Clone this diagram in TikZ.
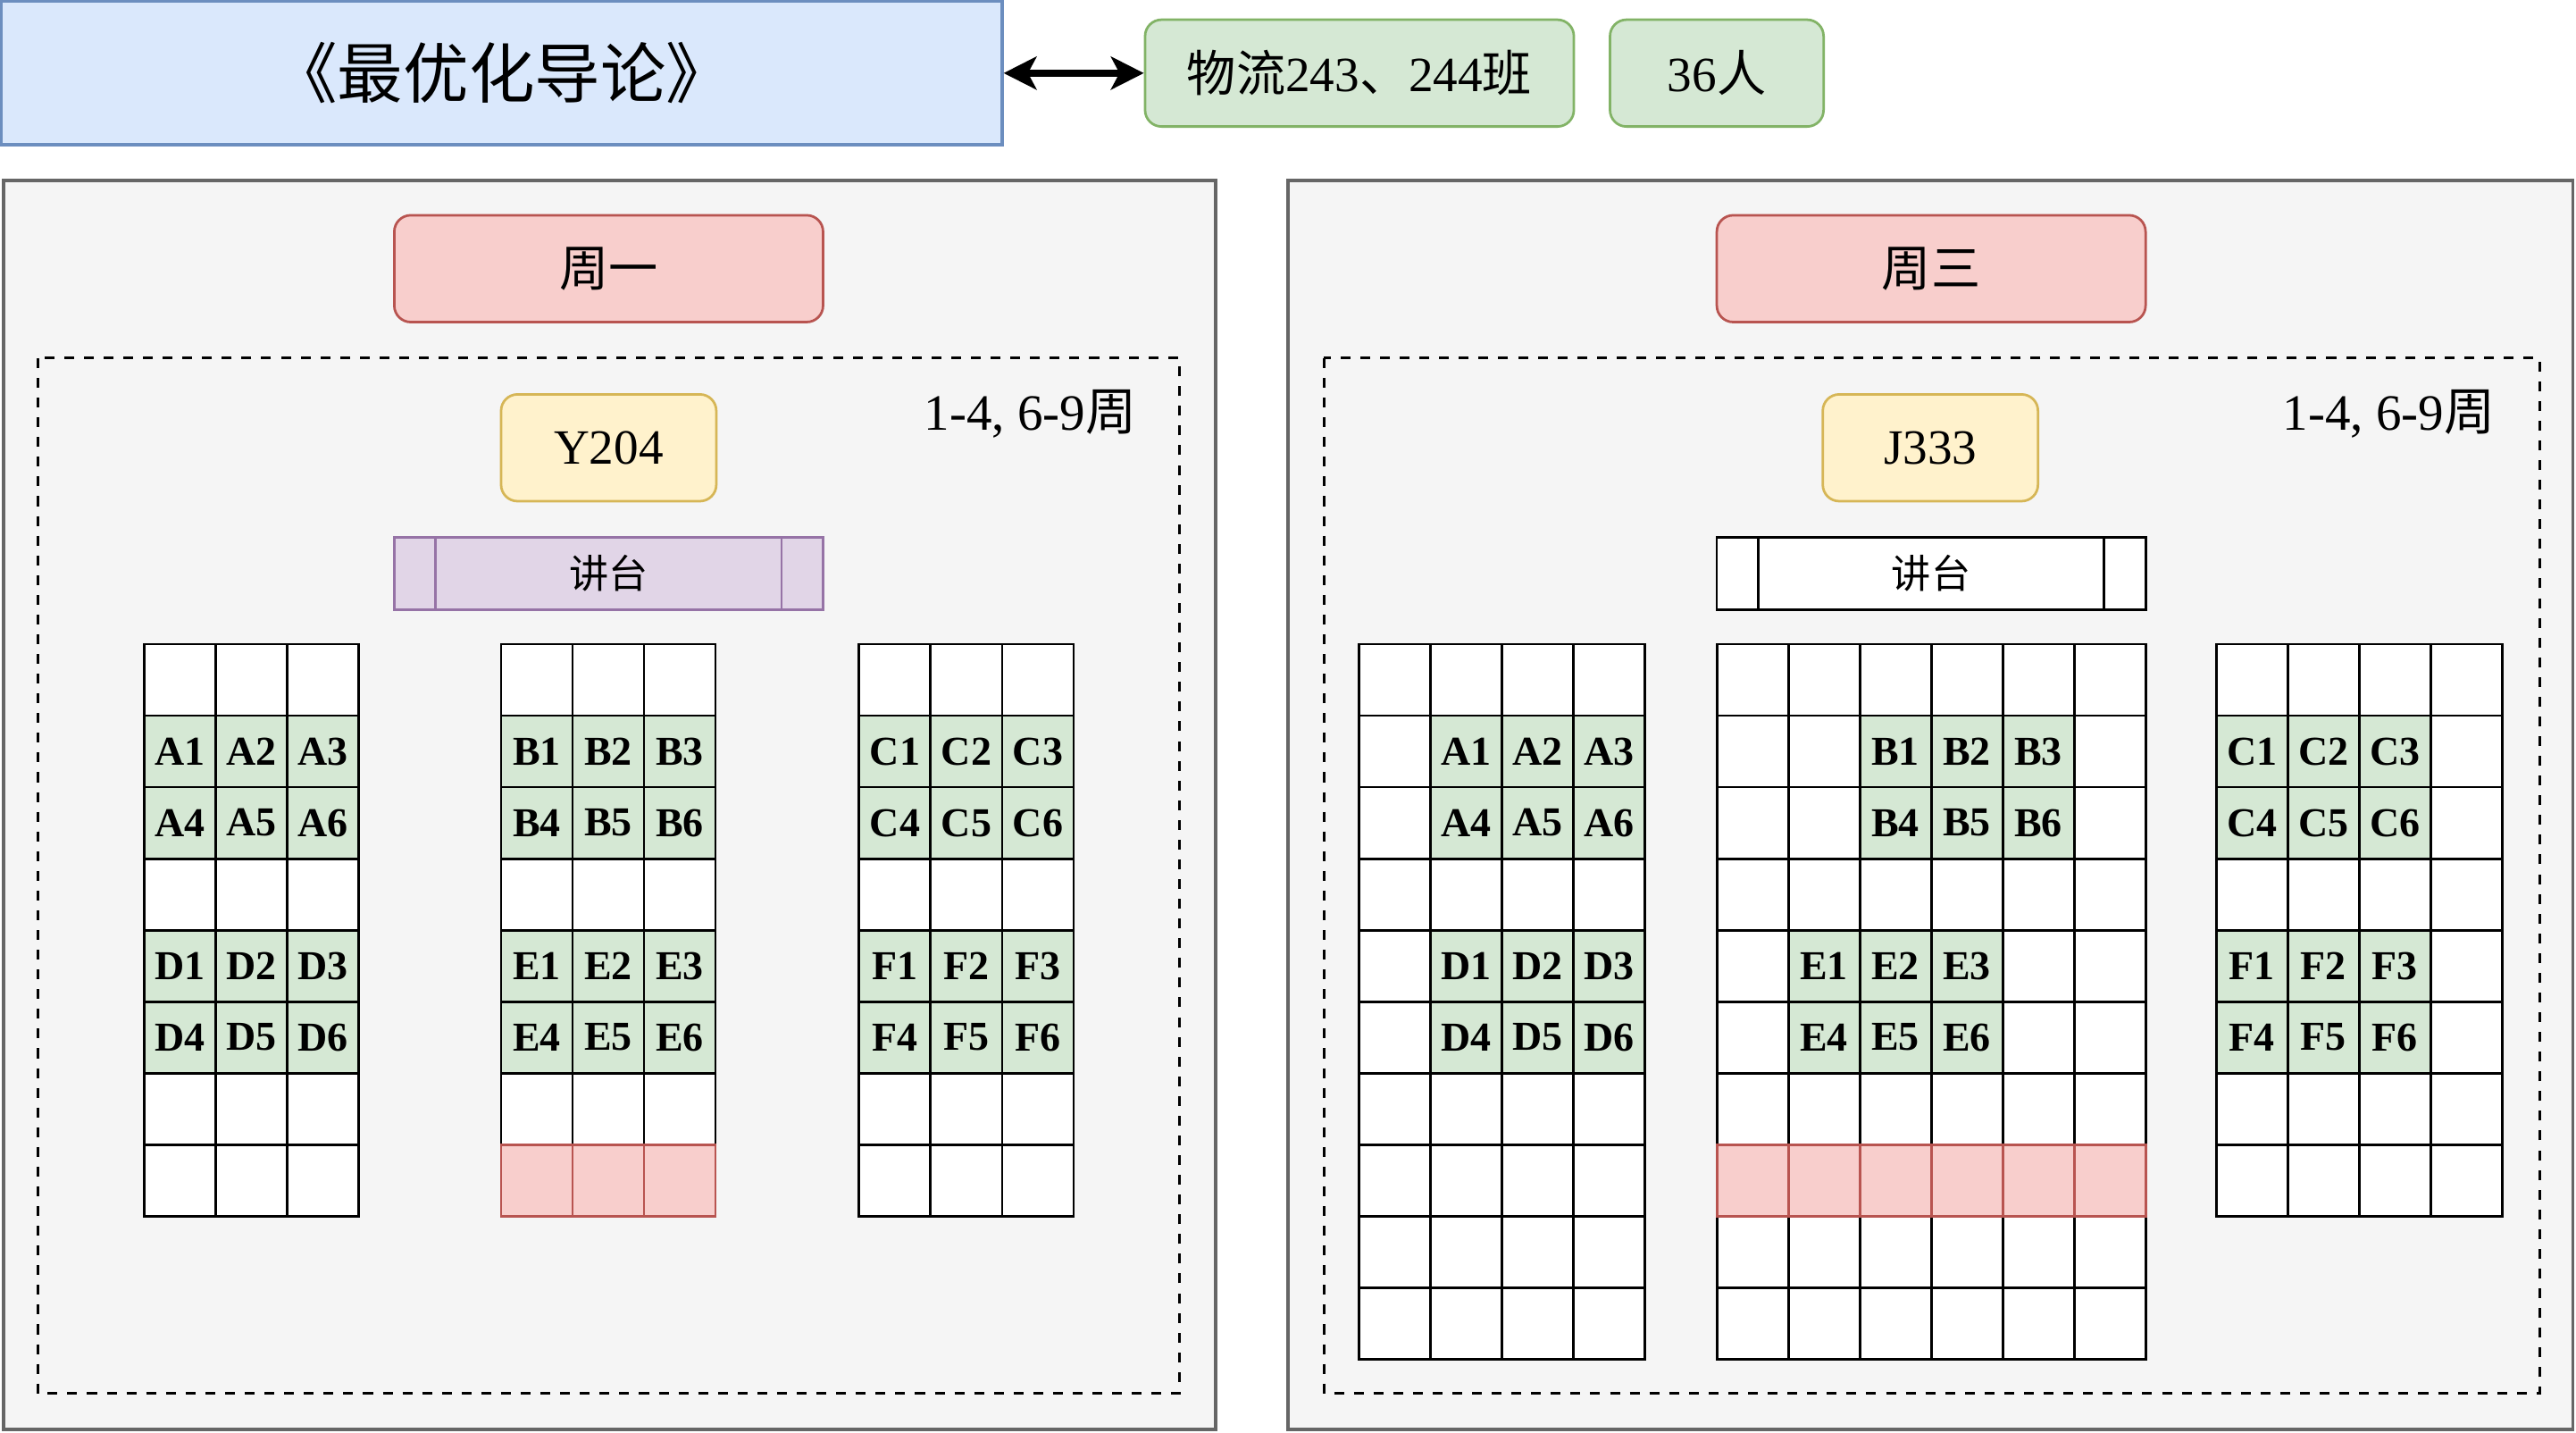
\documentclass[tikz,border=0pt]{standalone}
\usepackage{fontspec}
\setmainfont{Liberation Serif}
\newfontfamily\cjk{Noto Sans CJK SC}
\usetikzlibrary{positioning,arrows.meta}

\definecolor{blueFill}{HTML}{DAE8FC}
\definecolor{blueLine}{HTML}{6C8EBF}
\definecolor{greenFill}{HTML}{D5E8D4}
\definecolor{greenLine}{HTML}{82B366}
\definecolor{redFill}{HTML}{F8CECC}
\definecolor{redLine}{HTML}{B85450}
\definecolor{yellowFill}{HTML}{FFF2CC}
\definecolor{yellowLine}{HTML}{D6B656}
\definecolor{purpleFill}{HTML}{E1D5E7}
\definecolor{purpleLine}{HTML}{9673A6}
\definecolor{panelFill}{HTML}{F5F5F5}
\definecolor{panelLine}{HTML}{666666}

% one block of seats: name, left, top, last column, last row
\newcommand{\seatgrid}[5]{%
  \foreach \r in {0,...,#5}
    \foreach \c in {0,...,#4}
      \node[seat] (#1-\r-\c) at ({#2+43.5*\c},{#3+43.5*\r}) {};
}
% six taken seats: block, letter, first row, first column
\newcommand{\seatgroup}[4]{%
  \foreach \i in {0,1}
    \foreach \j in {0,1,2} {
      \pgfmathtruncatemacro{\n}{3*\i+\j+1}
      \pgfmathtruncatemacro{\rr}{#3+\i}
      \pgfmathtruncatemacro{\cc}{#4+\j}
      \node[taken] (#1-#2\n) at (#1-\rr-\cc.north west) {#2\n};
    }
}

\begin{document}
\begin{tikzpicture}[x=0.5pt,y=-0.5pt,
  tag/.style={draw, line width=0.75pt, rounded corners=5pt, inner sep=0pt,
    minimum width=130.5pt, minimum height=32.5pt, font=\fontsize{15}{18}\selectfont},
  classtag/.style={tag, fill=greenFill, draw=greenLine},
  daytag/.style={tag, fill=redFill, draw=redLine, font=\cjk\fontsize{15}{18}\selectfont},
  roomtag/.style={tag, fill=yellowFill, draw=yellowLine, minimum width=65.5pt},
  desk/.style={draw, line width=0.75pt, inner sep=0pt, minimum width=130.5pt,
    minimum height=22pt, font=\cjk\fontsize{12}{14}\selectfont},
  panel/.style={draw=panelLine, fill=panelFill, line width=1pt, inner sep=0pt},
  week/.style={draw, line width=0.8pt, dash pattern=on 3pt off 3pt},
  weeks/.style={anchor=east, inner sep=0pt, font=\fontsize{15.5}{18}\selectfont},
  seat/.style={draw, line width=0.8pt, fill=white, inner sep=0pt, outer sep=0pt,
    minimum width=21.75pt, minimum height=21.75pt, anchor=north west,
    font=\bfseries\fontsize{12.5}{14}\selectfont},
  taken/.style={seat, fill=greenFill},
  front/.style={seat, fill=redFill, draw=redLine},
  tip/.style={Stealth[length=10pt, width=10pt, inset=2.6pt]},
  both/.style={{Stealth[length=10pt, width=10pt, inset=2.6pt]}-{Stealth[length=10pt, width=10pt, inset=2.6pt]}, line width=2pt}]
\useasboundingbox (0,0) rectangle (1568,872);

% header
\node[draw=blueLine, fill=blueFill, line width=0.9pt, inner sep=0pt,
  minimum width=304.5pt, minimum height=43.5pt, font=\cjk\fontsize{20}{24}\selectfont]
  (course) at (305.5,44.5) {《最优化导论》};
\node[classtag] (class) at (827.5,44.5) {{\cjk 物流}243{\cjk 、}244{\cjk 班}};
\node[classtag, minimum width=65pt] (size) at (1045,44.5) {36{\cjk 人}};
\draw[both] (course.east) -- (class.west);

% Monday
\node[panel, minimum width=369pt, minimum height=380pt] (mon) at (371,490) {};
\node[daytag] (monday) at (370.5,163.5) {周一};
\draw[week] (23,218) rectangle (718,848);
\node[weeks] (monweeks) at (692,252) {1-4, 6-9{\cjk 周}};
\node[roomtag] (monroom) at (370.5,272.5) {Y204};
\node[desk, fill=purpleFill, draw=purpleLine] (mondesk) at (370.5,349) {讲台};
\draw[purpleLine, line width=0.75pt] ([xshift=13pt]mondesk.north west) -- ([xshift=13pt]mondesk.south west);
\draw[purpleLine, line width=0.75pt] ([xshift=-13pt]mondesk.north east) -- ([xshift=-13pt]mondesk.south east);

\seatgrid{mA}{88}{392}{2}{7}
\seatgrid{mB}{305}{392}{2}{7}
\seatgrid{mC}{523}{392}{2}{7}
\seatgroup{mA}{A}{1}{0}
\seatgroup{mA}{D}{4}{0}
\seatgroup{mB}{B}{1}{0}
\seatgroup{mB}{E}{4}{0}
\seatgroup{mC}{C}{1}{0}
\seatgroup{mC}{F}{4}{0}
\foreach \c in {0,1,2}
  \node[front] (mB-red-\c) at (mB-7-\c.north west) {};

% Wednesday
\node[panel, minimum width=391pt, minimum height=380pt] (wed) at (1175,490) {};
\node[daytag] (wednesday) at (1175.5,163.5) {周三};
\draw[week] (806,218) rectangle (1546,848);
\node[weeks] (wedweeks) at (1519,252) {1-4, 6-9{\cjk 周}};
\node[roomtag] (wedroom) at (1175,272.5) {J333};
\node[desk, fill=white] (weddesk) at (1175.5,349) {讲台};
\draw[line width=0.75pt] ([xshift=13pt]weddesk.north west) -- ([xshift=13pt]weddesk.south west);
\draw[line width=0.75pt] ([xshift=-13pt]weddesk.north east) -- ([xshift=-13pt]weddesk.south east);

\seatgrid{wA}{827}{392}{3}{9}
\seatgrid{wB}{1045}{392}{5}{9}
\seatgrid{wC}{1349}{392}{3}{7}
\seatgroup{wA}{A}{1}{1}
\seatgroup{wA}{D}{4}{1}
\seatgroup{wB}{B}{1}{2}
\seatgroup{wB}{E}{4}{1}
\seatgroup{wC}{C}{1}{0}
\seatgroup{wC}{F}{4}{0}
\foreach \c in {0,...,5}
  \node[front] (wB-red-\c) at (wB-7-\c.north west) {};
\end{tikzpicture}
\end{document}
